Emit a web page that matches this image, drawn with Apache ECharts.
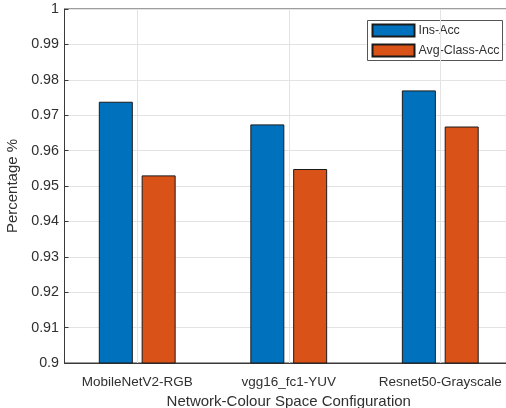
<!DOCTYPE html>
<html>
<head>
<meta charset="utf-8">
<script src="https://cdn.jsdelivr.net/npm/echarts@6/dist/echarts.min.js"></script>
<style>html,body{margin:0;padding:0;background:#fff}#c{width:506px;height:408px}</style>
</head>
<body>
<div id="c"></div>
<script>
const categories = ['MobileNetV2-RGB', 'vgg16_fc1-YUV', 'Resnet50-Grayscale'];
const insAcc = [0.9738, 0.9674, 0.9770];
const avgClassAcc = [0.9530, 0.9548, 0.9668];
const seriesNames = ['Ins-Acc', 'Avg-Class-Acc'];
const yTicks = ['0.9', '0.91', '0.92', '0.93', '0.94', '0.95', '0.96', '0.97', '0.98', '0.99', '1'];
const xPos = [1, 2, 3];

const font = 'Liberation Sans, Arial, Helvetica, sans-serif';
const txt = '#303030';
const chart = echarts.init(document.getElementById('c'), null, {renderer: 'canvas'});
chart.setOption({
  animation: false,
  backgroundColor: '#fff',
  grid: {left: 64.5, top: 9, right: -7, bottom: 45, outerBoundsMode: 'none', containLabel: false,
    show: true, borderColor: '#3a3a3a', borderWidth: 1, backgroundColor: 'transparent'},
  legend: {
    orient: 'vertical', left: 367.5, top: 20.5, padding: [3, 3, 3, 4], itemGap: 6,
    itemWidth: 42, itemHeight: 12, icon: 'rect',
    backgroundColor: '#fff', borderColor: '#555', borderWidth: 1,
    textStyle: {fontFamily: font, fontSize: 12.4, color: txt, padding: [0, 0, 0, -1]},
    data: seriesNames
  },
  xAxis: [{
    type: 'value', min: 0.52, max: 3.48,
    name: 'Network-Colour Space Configuration', nameLocation: 'middle', nameGap: 28,
    nameTextStyle: {fontFamily: font, fontSize: 15, color: txt},
    axisLine: {show: true, lineStyle: {color: '#3a3a3a'}},
    axisTick: {show: true, inside: true, length: 4, customValues: xPos, lineStyle: {color: '#3a3a3a'}},
    axisLabel: {show: true, customValues: xPos, margin: 12, fontFamily: font, fontSize: 13.5, color: txt,
      formatter: v => categories[Math.round(v) - 1] || ''},
    splitLine: {show: false}
  }, {
    type: 'value', min: 0.52, max: 3.48, position: 'top',
    axisLine: {show: false},
    axisTick: {show: true, inside: true, length: 4, customValues: xPos, lineStyle: {color: '#3a3a3a'}},
    axisLabel: {show: false},
    splitLine: {show: false}
  }],
  yAxis: {
    type: 'value', min: 0.9, max: 1, interval: 0.01,
    name: 'Percentage %', nameLocation: 'middle', nameGap: 38, nameRotate: 90,
    nameTextStyle: {fontFamily: font, fontSize: 15, color: txt},
    axisLine: {show: true, lineStyle: {color: '#3a3a3a'}},
    axisTick: {show: true, inside: true, length: 4, lineStyle: {color: '#3a3a3a'}},
    axisLabel: {margin: 5.5, fontFamily: font, fontSize: 14.3, color: txt,
      formatter: v => yTicks[Math.round((v - 0.9) * 100)]},
    splitLine: {show: true, lineStyle: {color: '#e3e3e3', width: 1}}
  },
  series: [
    {
      type: 'line', data: [], silent: true, z: 0,
      markLine: {symbol: 'none', silent: true, label: {show: false},
        lineStyle: {color: '#e3e3e3', type: 'solid', width: 1},
        data: xPos.map(x => ({xAxis: x}))}
    },
    {
      name: seriesNames[0], type: 'bar', barWidth: 34, barGap: '26%',
      itemStyle: {color: '#0072BD', borderColor: '#1a1a1a', borderWidth: 1},
      data: xPos.map((x, i) => [x, insAcc[i]])
    },
    {
      name: seriesNames[1], type: 'bar', barWidth: 34, barGap: '26%',
      itemStyle: {color: '#D95319', borderColor: '#1a1a1a', borderWidth: 1},
      data: xPos.map((x, i) => [x, avgClassAcc[i]])
    }
  ]
});
</script>
</body>
</html>
